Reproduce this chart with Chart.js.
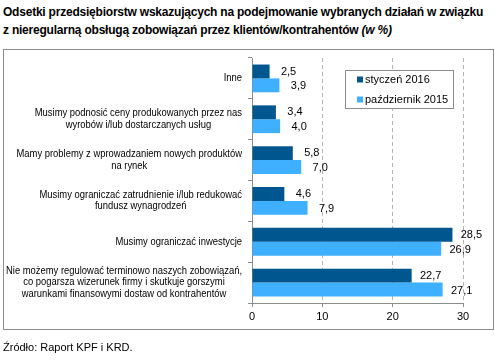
<!DOCTYPE html>
<html><head><meta charset="utf-8">
<script src="https://cdn.jsdelivr.net/npm/chart.js@4"></script>
<style>
html,body{margin:0;padding:0;background:#fff;}
#wrap{position:relative;width:495px;height:361px;overflow:hidden;font-family:"Liberation Sans",Arial,sans-serif;color:#000;}
#title{position:absolute;left:3px;top:3px;font-weight:bold;font-size:12px;line-height:18px;white-space:nowrap;}
#title span{display:inline-block;}
#frame{position:absolute;left:3px;top:49px;width:489px;height:279px;border:1px solid #8c8c8c;}
#src{position:absolute;left:3px;top:341px;font-size:11px;}
canvas{position:absolute;left:0;top:0;}
</style></head>
<body><div id="wrap">
<div id="title"><span id="t1">Odsetki przedsiębiorstw wskazujących na podejmowanie wybranych działań w związku</span><br><span id="t2">z nieregularną obsługą zobowiązań przez klientów/kontrahentów <i>(w %)</i></span></div>
<div id="frame"></div>
<canvas id="c" width="495" height="361" style="width:495px;height:361px"></canvas>
<div id="src">Źródło: Raport KPF i KRD.</div>
</div>
<script>
const categories = [
  ["Inne"],
  ["Musimy podnosić ceny produkowanych przez nas", "wyrobów i/lub dostarczanych usług"],
  ["Mamy problemy z wprowadzaniem nowych produktów", "na rynek"],
  ["Musimy ograniczać zatrudnienie i/lub redukować", "fundusz wynagrodzeń"],
  ["Musimy ograniczać inwestycje"],
  ["Nie możemy regulować terminowo naszych zobowiązań,", "co pogarsza wizerunek firmy i skutkuje gorszymi", "warunkami finansowymi dostaw od kontrahentów"]
];
const seriesNames = ["styczeń 2016", "październik 2015"];
const jan2016 = [2.5, 3.4, 5.8, 4.6, 28.5, 22.7];
const oct2015 = [3.9, 4.0, 7.0, 7.9, 26.9, 27.1];
const xMin = 0, xMax = 30, xStep = 10;

const colors = ["#00568f", "#3fb0ff"];
const FONT = '"Liberation Sans", Arial, sans-serif';

// fit title line 1 to the reference width (~480px) via letter spacing
(function () {
  const t1 = document.getElementById('t1'), t2 = document.getElementById('t2');
  const w = t1.getBoundingClientRect().width;
  const n = t1.textContent.length;
  const ls = (480 - w) / n;
  t1.style.letterSpacing = ls + 'px';
  t2.style.letterSpacing = ls + 'px';
})();

const yLabelsPlugin = {
  id: 'yLabels',
  afterDraw(chart) {
    const ctx = chart.ctx, ys = chart.scales.y;
    ctx.save();
    ctx.font = '10px ' + FONT;
    ctx.fillStyle = '#000';
    ctx.textBaseline = 'middle';
    ctx.textAlign = 'center';
    const lh = 11.5, right = ys.right - 10;
    // horizontal condensing so longest line spans ~236px as in the reference
    let maxW = 0;
    chart.data.labels.forEach(lines => lines.forEach(l => { maxW = Math.max(maxW, ctx.measureText(l).width); }));
    const sx = Math.min(1, 236 / maxW);
    chart.data.labels.forEach((lines, i) => {
      const yc = ys.getPixelForValue(i);
      const w = Math.max(...lines.map(l => ctx.measureText(l).width)) * sx;
      const cx = right - w / 2;
      const y0 = yc - (lines.length - 1) * lh / 2;
      lines.forEach((l, k) => {
        ctx.save();
        ctx.translate(cx, y0 + k * lh);
        ctx.scale(sx, 1);
        ctx.fillText(l, 0, 0);
        ctx.restore();
      });
    });
    ctx.restore();
  }
};

const valueLabelsPlugin = {
  id: 'valueLabels',
  afterDatasetsDraw(chart) {
    const ctx = chart.ctx;
    ctx.save();
    ctx.font = '11px ' + FONT;
    ctx.fillStyle = '#000';
    ctx.textAlign = 'center';
    ctx.textBaseline = 'middle';
    chart.data.datasets.forEach((ds, di) => {
      chart.getDatasetMeta(di).data.forEach((bar, i) => {
        const txt = ds.data[i].toFixed(1).replace('.', ',');
        ctx.fillText(txt, bar.x + 19, bar.y + (di === 1 ? 1 : 0));
      });
    });
    ctx.restore();
  }
};

const legendPlugin = {
  id: 'boxLegend',
  afterDraw(chart) {
    const ctx = chart.ctx;
    ctx.save();
    const x = 345.5, y = 70.5, w = 108, h = 38;
    ctx.fillStyle = '#fff';
    ctx.fillRect(x, y, w, h);
    ctx.strokeStyle = '#8c8c8c';
    ctx.lineWidth = 1;
    ctx.strokeRect(x, y, w, h);
    ctx.font = '11px ' + FONT;
    ctx.textBaseline = 'middle';
    ctx.textAlign = 'left';
    chart.data.datasets.forEach((ds, i) => {
      const cy = 79.5 + i * 20;
      ctx.fillStyle = ds.backgroundColor;
      ctx.fillRect(357, cy - 3, 6, 6);
      ctx.fillStyle = '#000';
      ctx.fillText(ds.label, 365, cy);
    });
    ctx.restore();
  }
};

new Chart(document.getElementById('c'), {
  type: 'bar',
  data: {
    labels: categories,
    datasets: [
      { label: seriesNames[0], data: jan2016, backgroundColor: colors[0] },
      { label: seriesNames[1], data: oct2015, backgroundColor: colors[1] }
    ]
  },
  options: {
    indexAxis: 'y',
    responsive: false,
    animation: false,
    devicePixelRatio: 1,
    layout: { padding: { top: 58, right: 32, bottom: 38, left: 0 } },
    datasets: { bar: { categoryPercentage: 0.68, barPercentage: 1.0 } },
    plugins: { legend: { display: false }, tooltip: { enabled: false }, title: { display: false } },
    scales: {
      x: {
        min: xMin, max: xMax,
        ticks: { stepSize: xStep, color: '#000', font: { size: 11, family: FONT }, padding: 3 },
        grid: {
          color: c => c.tick && c.tick.value === 0 ? 'rgba(0,0,0,0)' : '#b4b4b4',
          tickColor: '#8c8c8c', tickLength: 4, drawTicks: true, tickBorderDash: []
        },
        border: { display: true, color: '#8c8c8c', dash: [4, 3] },
        afterFit: s => { s.height = 20; }
      },
      y: {
        ticks: { display: false },
        grid: { offset: true, drawOnChartArea: false, drawTicks: true, tickLength: 4, tickColor: '#8c8c8c' },
        border: { display: true, color: '#8c8c8c' },
        afterFit: s => { s.width = 252; }
      }
    }
  },
  plugins: [yLabelsPlugin, valueLabelsPlugin, legendPlugin]
});
</script>
</body></html>
